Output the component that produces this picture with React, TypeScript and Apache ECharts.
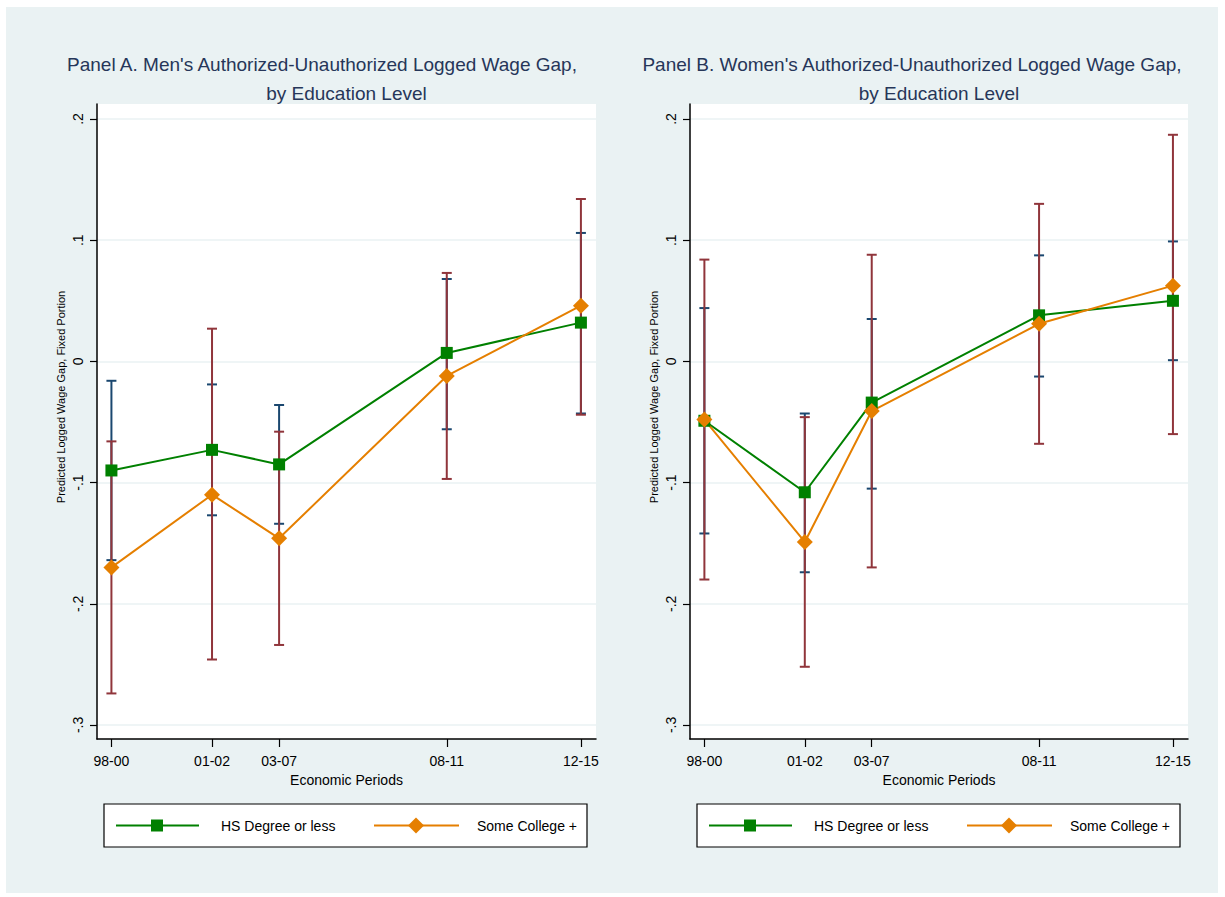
import React, { useEffect, useRef } from "react";
import * as echarts from "echarts";

// ---------- data ----------
const periodLabels = ["98-00", "01-02", "03-07", "08-11", "12-15"];
const periodPos = [1, 4, 6, 11, 15];
const yTicks = [-0.3, -0.2, -0.1, 0, 0.1, 0.2];

const seriesNames = ["HS Degree or less", "Some College +"];

// Panel A (men)
const menHS = [-0.09, -0.073, -0.085, 0.007, 0.032];
const menHSLow = [-0.164, -0.127, -0.134, -0.056, -0.043];
const menHSHigh = [-0.016, -0.019, -0.036, 0.068, 0.106];
const menCol = [-0.17, -0.11, -0.146, -0.012, 0.046];
const menColLow = [-0.274, -0.246, -0.234, -0.097, -0.044];
const menColHigh = [-0.066, 0.027, -0.058, 0.073, 0.134];

// Panel B (women)
const womenHS = [-0.049, -0.108, -0.034, 0.038, 0.05];
const womenHSLow = [-0.142, -0.174, -0.105, -0.0125, 0.001];
const womenHSHigh = [0.044, -0.043, 0.035, 0.0875, 0.099];
const womenCol = [-0.048, -0.149, -0.041, 0.031, 0.0625];
const womenColLow = [-0.18, -0.252, -0.17, -0.068, -0.06];
const womenColHigh = [0.084, -0.046, 0.088, 0.13, 0.187];

const titlesA = ["Panel A. Men's Authorized-Unauthorized Logged Wage Gap,", "by Education Level"];
const titlesB = ["Panel B. Women's Authorized-Unauthorized Logged Wage Gap,", "by Education Level"];
const xName = "Economic Periods";
const yName = "Predicted Logged Wage Gap, Fixed Portion";

// ---------- styles ----------
const FONT = "Liberation Sans, Arial, Helvetica, sans-serif";
const BG = "#EAF2F3";
const GREEN = "#008000";
const ORANGE = "#E57F00";
const NAVY = "#1A476F";
const MAROON = "#90353B";
const TITLE_COLOR = "#263659";

const fmtY = (v: number) => {
  if (Math.abs(v) < 1e-9) return "0";
  return (v < 0 ? "-" : "") + "." + Math.round(Math.abs(v) * 10);
};
const fmtX = (v: number) => {
  const i = periodPos.findIndex((p) => Math.abs(p - v) < 1e-6);
  return i >= 0 ? periodLabels[i] : "";
};

function errorBarSeries(gridIdx: number, low: number[], high: number[], color: string, name: string) {
  return {
    type: "custom",
    name,
    xAxisIndex: gridIdx,
    yAxisIndex: gridIdx,
    silent: true,
    z: 2,
    data: periodPos.map((p, i) => [p, low[i], high[i]]),
    encode: { x: 0, y: [1, 2] },
    renderItem: (params: any, api: any) => {
      const x = api.value(0);
      const pLo = api.coord([x, api.value(1)]);
      const pHi = api.coord([x, api.value(2)]);
      const hw = 5;
      const style = { stroke: color, lineWidth: 2, fill: "none" };
      return {
        type: "group",
        children: [
          { type: "line", shape: { x1: pLo[0], y1: pLo[1], x2: pHi[0], y2: pHi[1] }, style },
          { type: "line", shape: { x1: pLo[0] - hw, y1: pLo[1], x2: pLo[0] + hw, y2: pLo[1] }, style },
          { type: "line", shape: { x1: pHi[0] - hw, y1: pHi[1], x2: pHi[0] + hw, y2: pHi[1] }, style },
        ],
      };
    },
  };
}

function lineSeries(gridIdx: number, vals: number[], color: string, symbol: string, size: number, name: string) {
  return {
    type: "line",
    name,
    xAxisIndex: gridIdx,
    yAxisIndex: gridIdx,
    z: 3,
    data: periodPos.map((p, i) => [p, vals[i]]),
    symbol,
    symbolSize: size,
    showAllSymbol: true,
    lineStyle: { color, width: 2 },
    itemStyle: { color },
    emphasis: { disabled: true },
  };
}

function legendGraphic(left: number, top: number) {
  const h = 43;
  const cy = top + h / 2;
  return [
    {
      type: "rect",
      shape: { x: left, y: top, width: 483, height: h },
      style: { fill: "#ffffff", stroke: "#000000", lineWidth: 1.2 },
    },
    { type: "line", shape: { x1: left + 12, y1: cy, x2: left + 95, y2: cy }, style: { stroke: GREEN, lineWidth: 2 } },
    { type: "rect", shape: { x: left + 53 - 6, y: cy - 6, width: 12, height: 12 }, style: { fill: GREEN } },
    {
      type: "text",
      x: left + 117,
      y: cy,
      style: { text: seriesNames[0], font: `14px ${FONT}`, fill: "#000", verticalAlign: "middle", align: "left" },
    },
    { type: "line", shape: { x1: left + 270, y1: cy, x2: left + 355, y2: cy }, style: { stroke: ORANGE, lineWidth: 2 } },
    {
      type: "polygon",
      shape: { points: [[left + 312, cy - 8], [left + 320, cy], [left + 312, cy + 8], [left + 304, cy]] },
      style: { fill: ORANGE },
    },
    {
      type: "text",
      x: left + 373,
      y: cy,
      style: { text: seriesNames[1], font: `14px ${FONT}`, fill: "#000", verticalAlign: "middle", align: "left" },
    },
  ];
}

function yNameGraphic(cx: number, cy: number) {
  return {
    type: "text",
    x: cx,
    y: cy,
    rotation: Math.PI / 2,
    style: { text: yName, font: `11px ${FONT}`, fill: "#000", align: "center", verticalAlign: "middle" },
  };
}

export default function App() {
  const ref = useRef<HTMLDivElement>(null);

  useEffect(() => {
    document.body.style.margin = "0";
    if (!ref.current) return;
    const chart = echarts.init(ref.current, undefined, { renderer: "svg" });

    const grids = [
      { left: 91, top: 97, width: 499, height: 635 },
      { left: 684, top: 97, width: 498, height: 635 },
    ];

    const xAxes = [0, 1].map((g) => ({
      type: "value",
      gridIndex: g,
      min: 0.57,
      max: 15.45,
      name: xName,
      nameLocation: "middle",
      nameGap: 33,
      nameTextStyle: { fontFamily: FONT, fontSize: 14, color: "#000" },
      axisLine: { onZero: false, lineStyle: { color: "#000", width: 1.5 } },
      axisTick: { customValues: periodPos, length: 8, lineStyle: { color: "#000", width: 1.2 } },
      axisLabel: {
        customValues: periodPos,
        formatter: (v: number) => fmtX(v),
        fontFamily: FONT,
        fontSize: 14,
        color: "#000",
        margin: 15,
      },
      splitLine: { show: false },
    }));

    const yAxes = [0, 1].map((g) => ({
      type: "value",
      gridIndex: g,
      min: -0.3116,
      max: 0.2124,
      axisLine: { show: true, onZero: false, lineStyle: { color: "#000", width: 1.5 } },
      axisTick: { show: true, customValues: yTicks, length: 7, lineStyle: { color: "#000", width: 1.2 } },
      axisLabel: {
        customValues: yTicks,
        formatter: (v: number) => fmtY(v),
        rotate: 90,
        fontFamily: FONT,
        fontSize: 14,
        color: "#000",
        margin: 12,
      },
      splitLine: { show: true, lineStyle: { color: BG, width: 1.5 } },
    }));

    const tStyle = { fontFamily: FONT, fontSize: 19, fontWeight: "normal", color: TITLE_COLOR };
    const option: any = {
      animation: false,
      backgroundColor: BG,
      title: [
        { text: titlesA[0], left: 316, top: 48, textAlign: "center", padding: 0, textStyle: tStyle },
        { text: titlesA[1], left: 340.5, top: 76.5, textAlign: "center", padding: 0, textStyle: tStyle },
        { text: titlesB[0], left: 906, top: 48, textAlign: "center", padding: 0, textStyle: tStyle },
        { text: titlesB[1], left: 933, top: 76.5, textAlign: "center", padding: 0, textStyle: tStyle },
      ],
      grid: grids.map((g) => ({ ...g, show: true, backgroundColor: "#ffffff", borderWidth: 0, containLabel: false })),
      xAxis: xAxes,
      yAxis: yAxes,
      graphic: {
        elements: [
          ...legendGraphic(98, 797),
          ...legendGraphic(691, 797),
          yNameGraphic(54.7, 390),
          yNameGraphic(647.7, 390),
        ],
      },
      series: [
        errorBarSeries(0, menHSLow, menHSHigh, NAVY, "HS CI A"),
        errorBarSeries(0, menColLow, menColHigh, MAROON, "College CI A"),
        lineSeries(0, menHS, GREEN, "rect", 12, seriesNames[0]),
        lineSeries(0, menCol, ORANGE, "diamond", 16, seriesNames[1]),
        errorBarSeries(1, womenHSLow, womenHSHigh, NAVY, "HS CI B"),
        errorBarSeries(1, womenColLow, womenColHigh, MAROON, "College CI B"),
        lineSeries(1, womenHS, GREEN, "rect", 12, seriesNames[0]),
        lineSeries(1, womenCol, ORANGE, "diamond", 16, seriesNames[1]),
      ],
    };

    chart.setOption(option);
    return () => chart.dispose();
  }, []);

  return (
    <div style={{ position: "relative", width: 1225, height: 897, background: "#ffffff" }}>
      <div ref={ref} style={{ position: "absolute", left: 6, top: 7, width: 1212, height: 886 }} />
    </div>
  );
}
